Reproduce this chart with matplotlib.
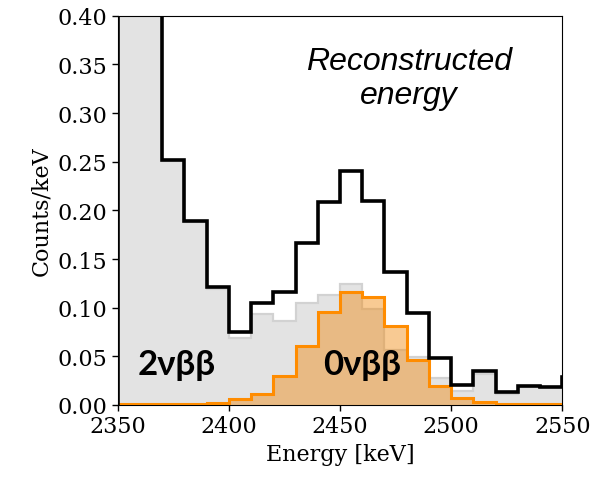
import numpy as np
import matplotlib
matplotlib.use("Agg")
from matplotlib import pyplot as plt

# 10 keV bins, counts per keV
bin_edges = np.arange(2350, 2570, 10)
two_nu = [0.62, 0.48, 0.251, 0.188, 0.119, 0.069, 0.094, 0.086, 0.105, 0.113,
          0.124, 0.099, 0.056, 0.049, 0.028, 0.014, 0.032, 0.0115, 0.018, 0.018, 0.028]
zero_nu = [0.0005, 0.0008, 0.001, 0.0012, 0.002, 0.006, 0.011, 0.030, 0.061, 0.096,
           0.116, 0.111, 0.081, 0.046, 0.020, 0.007, 0.003, 0.0015, 0.001, 0.0008, 0.0008]
total = np.array(two_nu) + np.array(zero_nu)

x_ticks = [2350, 2400, 2450, 2500, 2550]
y_ticks = [0.00, 0.05, 0.10, 0.15, 0.20, 0.25, 0.30, 0.35, 0.40]

plt.rcParams['font.family'] = 'DejaVu Serif'

fig = plt.figure(figsize=(5.95, 4.81), dpi=100)
ax = fig.add_axes([0.198, 0.156, 0.747, 0.809])

# 2vbb background
ax.stairs(two_nu, bin_edges, fill=True, color='#e3e3e3', zorder=1)
ax.stairs(two_nu, bin_edges, color='#d2d2d2', linewidth=1.6, zorder=2)
# 0vbb signal
ax.stairs(zero_nu, bin_edges, fill=True, color='#f08a10', alpha=0.45, linewidth=0, zorder=3)
ax.stairs(zero_nu, bin_edges, color='#ff8c00', linewidth=2.2, zorder=4)
# sum
ax.stairs(total, bin_edges, color='black', linewidth=2.6, zorder=6)

ax.set_xlim(2350, 2550)
ax.set_ylim(0, 0.40)
ax.set_xticks(x_ticks)
ax.set_yticks(y_ticks)
ax.set_yticklabels(['%.2f' % v for v in y_ticks])
ax.tick_params(labelsize=16, length=4, width=1)
ax.set_xlabel('Energy [keV]', fontsize=16)
ax.set_ylabel('Counts/keV', fontsize=16)

ax.text(2481, 0.336, 'Reconstructed\nenergy', fontsize=23, style='italic',
        family='Liberation Sans', ha='center', va='center', linespacing=1.2, zorder=7)
ax.text(2376.5, 0.032, '2νββ', fontsize=25, fontweight='bold', family='Lato',
        ha='center', va='baseline', zorder=7)
ax.text(2460, 0.032, '0νββ', fontsize=25, fontweight='bold', family='Lato',
        ha='center', va='baseline', zorder=7)

fig.savefig('out.png', dpi=100)
